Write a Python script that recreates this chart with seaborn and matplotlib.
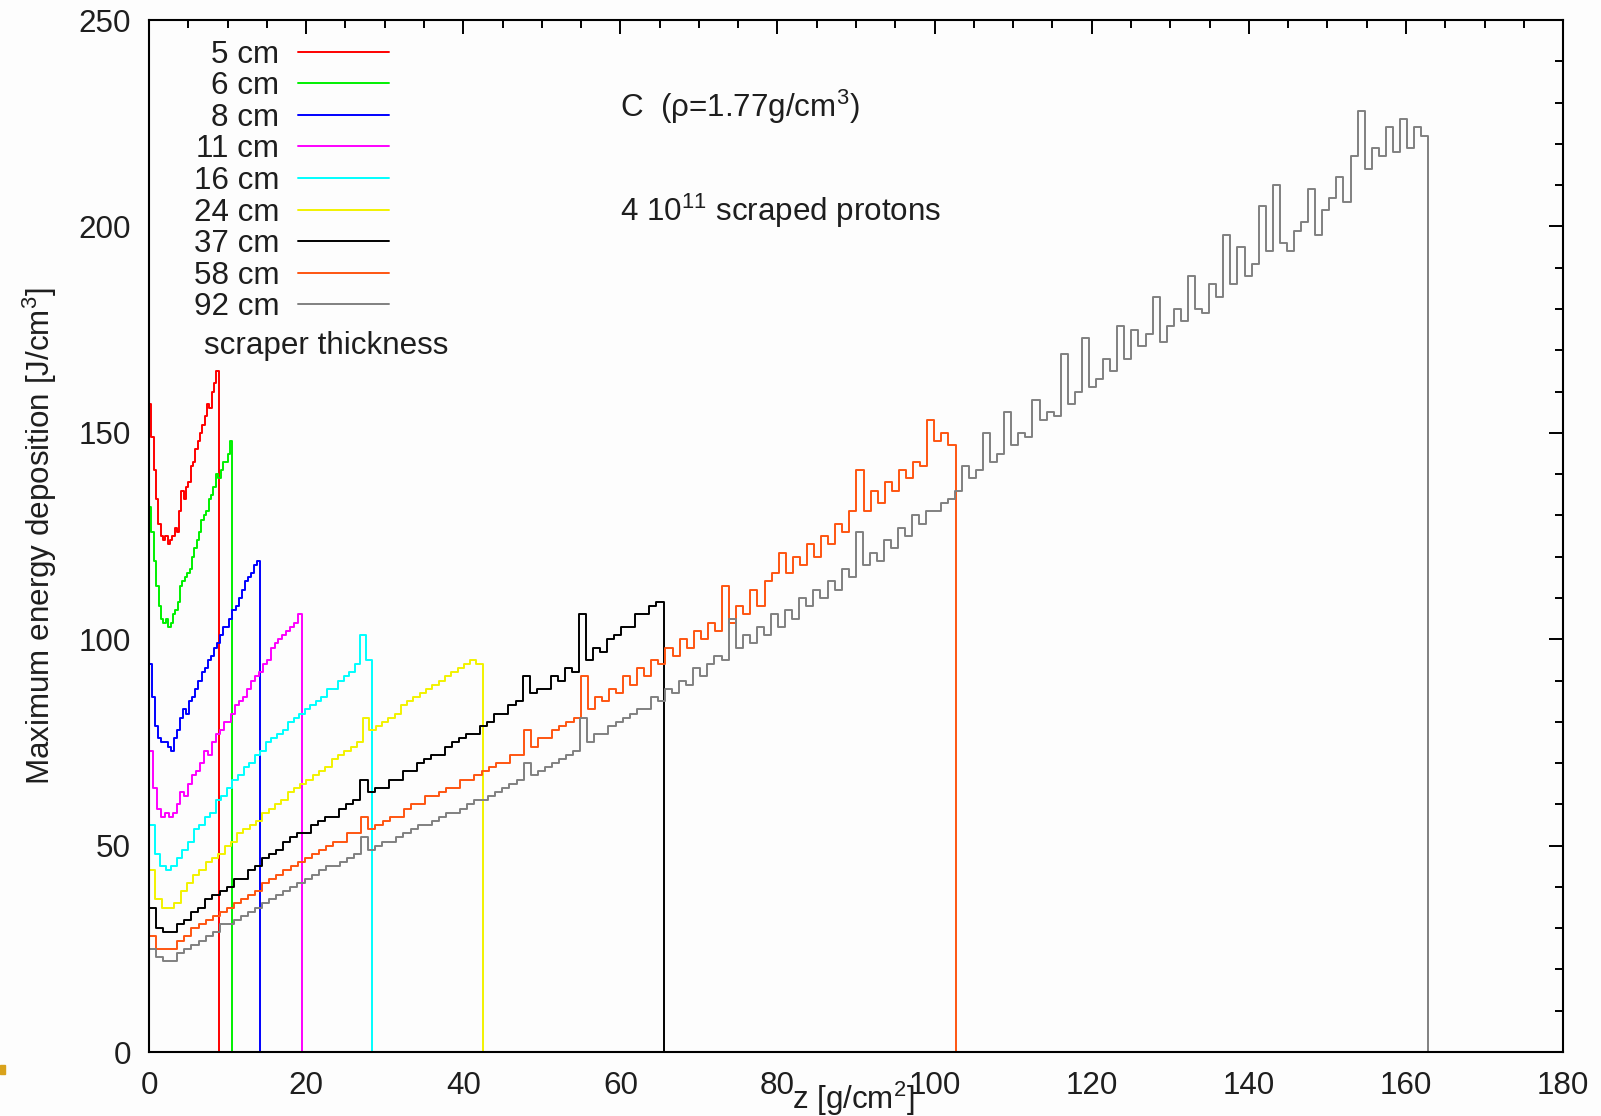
# %%
"""
Energia maxima depositada en el rascador de carbono, por espesor.
"""

import matplotlib
matplotlib.use("Agg")
import matplotlib.pyplot as plt
from matplotlib.ticker import MultipleLocator
import numpy as np
import pandas as pd
import seaborn as sns

# espesores del rascador y profundidad final (g/cm2, rho = 1.77)
thickness_cm = [5, 6, 8, 11, 16, 24, 37, 58, 92]
depth_end = [8.85, 10.62, 14.16, 19.47, 28.32, 42.48, 65.49, 102.66, 162.84]
line_colors = ["#ff0000", "#00f000", "#0000ff", "#ff00ff", "#00ffff",
               "#f2f200", "#000000", "#ff5511", "#808080"]

# energia maxima (J/cm3) en pasos iguales de profundidad
edep_5cm = [157, 149, 141, 134, 128, 125, 124, 125, 123, 124,
            125, 127, 126, 131, 136, 134, 137, 138, 142, 143,
            146, 148, 150, 152, 154, 157, 156, 160, 162, 165]
edep_6cm = [132, 126, 119, 113, 108, 105, 104, 105, 103, 104,
            106, 107, 109, 113, 114, 115, 116, 117, 120, 122,
            124, 126, 129, 130, 131, 134, 135, 137, 140, 139,
            141, 143, 143, 145, 148]
edep_8cm = [94, 86, 79, 76, 75, 75, 74, 73, 76, 78,
            81, 83, 82, 85, 86, 88, 90, 92, 93, 95,
            96, 98, 99, 101, 103, 103, 105, 107, 108, 110,
            112, 114, 115, 116, 118, 119]
edep_11cm = [73, 64, 59, 57, 58, 57, 58, 60, 63, 62,
             65, 67, 68, 70, 73, 72, 75, 77, 78, 80,
             80, 82, 84, 85, 86, 88, 90, 91, 92, 94,
             95, 98, 99, 100, 101, 102, 103, 104, 106]
edep_16cm = [55, 48, 45, 44, 45, 47, 49, 51, 54, 55,
             57, 58, 61, 62, 64, 66, 67, 69, 70, 72,
             73, 75, 76, 77, 78, 80, 81, 82, 83, 84,
             85, 86, 88, 88, 90, 91, 92, 94, 101, 95]
edep_24cm = [44, 37, 35, 35, 36, 39, 41, 43, 44, 46,
             47, 48, 50, 51, 53, 54, 55, 56, 58, 59,
             60, 61, 63, 64, 65, 66, 67, 68, 69, 71,
             72, 73, 74, 75, 81, 78, 79, 80, 81, 82,
             84, 85, 86, 87, 88, 89, 90, 91, 92, 93,
             94, 95, 94]
edep_37cm = [35, 30, 29, 29, 31, 32, 34, 35, 37, 38,
             39, 40, 42, 42, 44, 45, 47, 48, 49, 51,
             52, 53, 53, 55, 56, 57, 57, 59, 60, 61,
             66, 63, 64, 64, 66, 66, 68, 68, 70, 71,
             72, 72, 74, 75, 76, 77, 77, 79, 80, 82,
             82, 84, 85, 91, 87, 88, 88, 91, 90, 93,
             92, 106, 95, 98, 97, 100, 101, 103, 103, 106,
             106, 108, 109]
edep_58cm = [28, 25, 25, 25, 27, 28, 30, 31, 32, 33,
             34, 35, 36, 37, 38, 39, 41, 42, 43, 44,
             45, 46, 47, 48, 49, 50, 51, 51, 53, 53,
             57, 54, 55, 56, 57, 57, 59, 60, 60, 62,
             62, 63, 64, 64, 66, 66, 67, 68, 69, 70,
             70, 72, 72, 78, 74, 76, 76, 78, 79, 80,
             81, 91, 83, 86, 85, 88, 87, 91, 89, 93,
             91, 95, 94, 98, 96, 100, 98, 102, 100, 104,
             102, 113, 104, 108, 106, 112, 108, 114, 116, 121,
             116, 120, 118, 123, 120, 125, 123, 128, 126, 131,
             141, 131, 136, 133, 138, 136, 141, 139, 143, 142,
             153, 148, 150, 147]
edep_92cm = [25, 23, 22, 22, 24, 25, 26, 27, 28, 29,
             31, 31, 32, 33, 34, 35, 36, 37, 38, 39,
             40, 41, 42, 43, 44, 45, 45, 46, 47, 48,
             52, 49, 50, 51, 51, 52, 53, 54, 55, 55,
             56, 57, 58, 58, 59, 60, 61, 61, 62, 63,
             64, 65, 66, 70, 67, 68, 69, 70, 71, 72,
             73, 81, 75, 77, 77, 79, 80, 81, 82, 83,
             83, 86, 85, 88, 87, 90, 89, 93, 91, 94,
             96, 95, 105, 98, 101, 99, 103, 101, 106, 103,
             107, 105, 110, 108, 112, 110, 114, 112, 117, 115,
             126, 118, 121, 119, 124, 122, 127, 125, 130, 128,
             131, 131, 133, 134, 136, 142, 139, 141, 150, 143,
             145, 155, 147, 150, 149, 158, 153, 155, 154, 169,
             157, 160, 173, 161, 163, 168, 165, 176, 168, 175,
             171, 174, 183, 172, 176, 180, 177, 188, 180, 179,
             186, 183, 198, 186, 195, 188, 191, 205, 194, 210,
             196, 194, 199, 201, 209, 198, 204, 207, 212, 206,
             217, 228, 214, 219, 217, 224, 218, 226, 219, 224,
             222]

curves = [edep_5cm, edep_6cm, edep_8cm, edep_11cm, edep_16cm,
          edep_24cm, edep_37cm, edep_58cm, edep_92cm]

frames = []
for t, zmax, e in zip(thickness_cm, depth_end, curves):
    z = np.linspace(0, zmax, len(e) + 1)
    frames.append(pd.DataFrame({"z": z, "edep": list(e) + [0],
                                "scraper": f"{t} cm"}))
df = pd.concat(frames, ignore_index=True)

sns.set_theme(style="white")
plt.rcParams["font.family"] = ["Liberation Sans", "DejaVu Sans"]
plt.rcParams["mathtext.fontset"] = "custom"
plt.rcParams["mathtext.rm"] = "Liberation Sans"
plt.rcParams["mathtext.it"] = "Liberation Sans:italic"

fs = 22.6
txt_color = "#1e1e1e"
bg = "#fdfdfd"
fig = plt.figure(figsize=(16.01, 11.16), dpi=100, facecolor=bg)
ax = fig.add_axes([0.0931, 0.0573, 0.8832, 0.9247], facecolor=bg)

for t, c in zip(thickness_cm, line_colors):
    lab = f"{t} cm"
    sns.lineplot(data=df[df["scraper"] == lab], x="z", y="edep", color=c,
                 lw=1.4, drawstyle="steps-post", estimator=None,
                 errorbar=None, label=lab, ax=ax)

ax.set_xlim(0, 180)
ax.set_ylim(0, 250)
ax.xaxis.set_major_locator(MultipleLocator(20))
ax.xaxis.set_minor_locator(MultipleLocator(5))
ax.yaxis.set_major_locator(MultipleLocator(50))
ax.yaxis.set_minor_locator(MultipleLocator(10))
ax.tick_params(which="both", direction="in", top=True, right=True,
               color="black", width=1.4, labelsize=fs, labelcolor=txt_color)
ax.tick_params(which="major", length=10)
ax.tick_params(which="minor", length=5.5)
ax.tick_params(axis="x", pad=13.5)
ax.tick_params(axis="y", pad=13)
for s in ax.spines.values():
    s.set_color("black")
    s.set_linewidth(1.5)

ax.set_ylabel("Maximum energy deposition [J/cm$^3$]", fontsize=fs,
              color=txt_color, labelpad=14)
ax.set_xlabel("z [g/cm$^2$]", fontsize=fs, color=txt_color)
ax.xaxis.set_label_coords(0.498, -0.027)

ax.text(0.333, 0.916, "C  (ρ=1.77g/cm$^3$)", transform=ax.transAxes,
        fontsize=fs, va="center", ha="left", color=txt_color)
ax.text(0.333, 0.815, "4 10$^{11}$ scraped protons", transform=ax.transAxes,
        fontsize=fs, va="center", ha="left", color=txt_color)
ax.text(0.039, 0.684, "scraper thickness", transform=ax.transAxes,
        fontsize=fs, va="center", ha="left", color=txt_color)

leg = ax.legend(loc="upper left", bbox_to_anchor=(0.0315, 0.981),
                frameon=False, markerfirst=False, fontsize=fs,
                handlelength=2.9, handletextpad=0.6, labelspacing=0.05,
                borderpad=0, borderaxespad=0)
for txt in leg.get_texts():
    txt.set_color(txt_color)

fig.patches.append(plt.Rectangle((0, 0.038), 0.003, 0.008, color="#d9a21b",
                                 transform=fig.transFigure, figure=fig))

fig.savefig("out.png", dpi=100, facecolor=bg)
